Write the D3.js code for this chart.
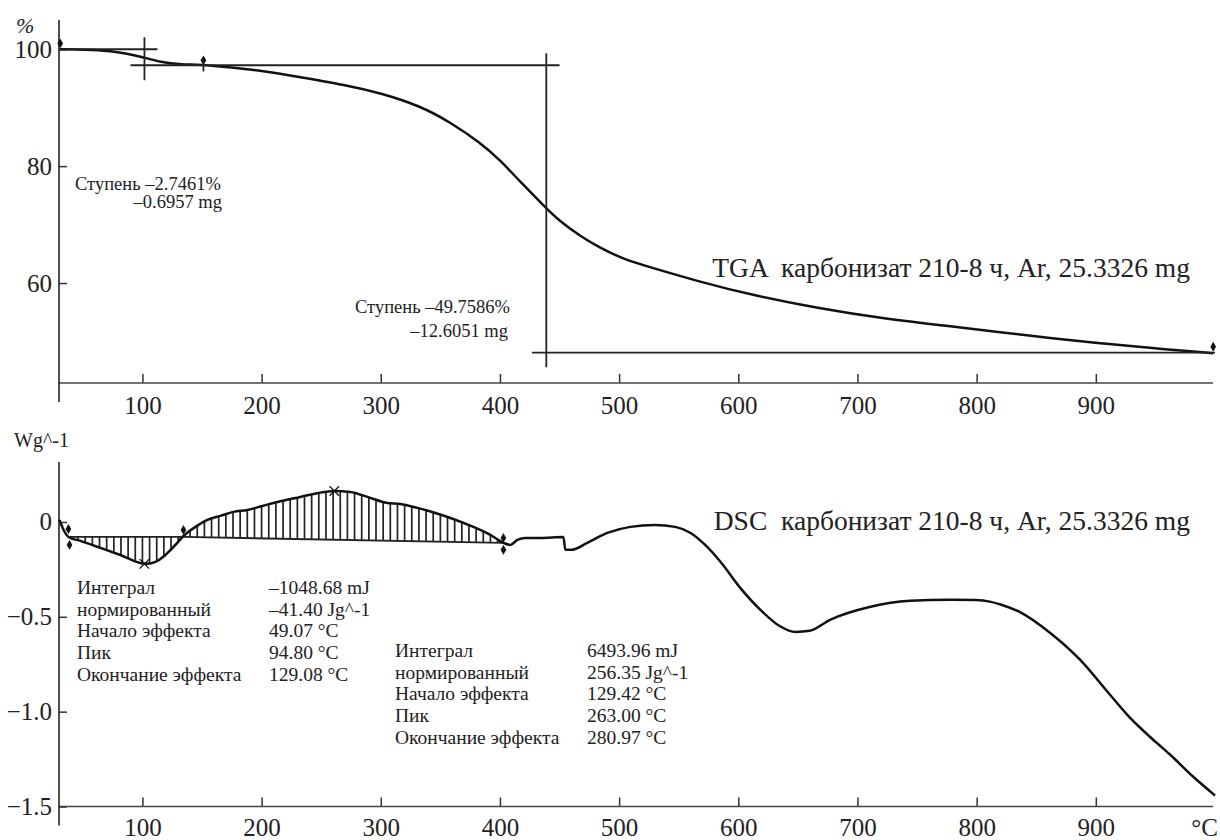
<!DOCTYPE html>
<meta charset="utf-8">
<title>TGA / DSC</title>
<style>
body {
  margin: 0;
  background: #fff;
}
text {
  font-family: "Liberation Serif", "Times New Roman", serif;
  fill: #222;
}
.curve {
  fill: none;
  stroke: #111;
  stroke-width: 2.5px;
}
.guide {
  stroke: #222;
  stroke-width: 1.8px;
}
.axis line, .axis path {
  stroke: #333;
}
</style>
<body>
<script src="https://cdnjs.cloudflare.com/ajax/libs/d3/7.8.5/d3.min.js"></script>
<script>
// temperature (°C) and mass (%) of the TGA curve
var tgaT = [30.4, 64.8, 87.4, 100.8, 115.1, 131.9, 154.5, 199, 232.6, 274.5, 299.7, 333.2, 358.4, 383.6, 400.3, 417.1,
            438.9, 449, 467.4, 484.2, 503.5, 526.2, 568.1, 610.1, 666.3, 725, 777.9, 819.8, 861.7, 903.7, 945.6, 998.5];
var tgaV = [100, 99.9, 99.3, 98.6, 97.8, 97.4, 97.3, 96.4, 95.2, 93.7, 92.5, 90.3, 87.5, 84.0, 81.0, 77.3,
            72.8, 70.8, 68.0, 66.0, 64.1, 62.7, 60.2, 58.0, 55.7, 53.8, 52.6, 51.6, 50.6, 49.7, 48.9, 48.0];

// temperature (°C) and heat flow (W/g) of the DSC curve
var dscT = [30.4, 33.7, 37.9, 48, 64.8, 81.5, 102.5, 110.9, 119.3, 127.7, 134.4, 144.5, 154.5, 165.4, 176.3, 188.1,
            200.7, 213.3, 232.6, 247.7, 261, 274.5, 288.8, 305.5, 316.4, 330.7, 345.8, 358.4, 377.7, 392, 402.9,
            408.7, 414.6, 421.3, 433.9, 453.2, 454.9, 459.9, 473.3, 490.1, 509.4, 530, 547, 560, 572, 585, 602,
            618, 635, 648, 660, 677, 711, 744, 778, 799, 811, 820, 836, 861.5, 886.7, 911.9, 928.6, 947.9, 962.2, 981.5, 1000];
var dscV = [0.01, -0.04, -0.079, -0.10, -0.137, -0.174, -0.221, -0.21, -0.174, -0.121, -0.074, -0.026, 0.011, 0.032, 0.053, 0.063,
            0.084, 0.105, 0.132, 0.153, 0.163, 0.158, 0.132, 0.10, 0.095, 0.074, 0.047, 0.021, -0.026, -0.068, -0.11,
            -0.121, -0.095, -0.084, -0.084, -0.079, -0.147, -0.147, -0.11, -0.058, -0.026, -0.016, -0.026, -0.058, -0.12, -0.21, -0.35,
            -0.46, -0.55, -0.58, -0.574, -0.516, -0.447, -0.416, -0.41, -0.412, -0.42, -0.435, -0.474, -0.584, -0.726, -0.911, -1.032, -1.147, -1.226, -1.342, -1.442];

var xTicks = [100, 200, 300, 400, 500, 600, 700, 800, 900];
var tgaTicks = [100, 80, 60];
var dscTicks = [0, -0.5, -1.0, -1.5];

// step construction lines of the TGA, [t1, v1, t2, v2]
var tgaGuides = [[30.4, 100, 112.6, 100], [101.7, 102.05, 101.7, 94.7], [90, 97.26, 450, 97.26],
                 [438.9, 99.3, 438.9, 45.6], [427, 48.1, 1000, 48.1]];
var tgaMarks = [[31, 101.0], [151.2, 98.1], [998.5, 49.1]];

// integration baselines of the DSC peaks
var base1 = [[37.9, -0.079], [134.4, -0.079]];
var base2 = [[134.4, -0.079], [402.9, -0.11]];
var dscMarks = [[37.9, -0.037], [38.8, -0.121], [134.4, -0.042], [402.9, -0.084], [402.9, -0.147]];
var dscPeaks = [[101.7, -0.221], [261, 0.163]];

var stepText = [["Ступень –2.7461%", "–0.6957 mg"], ["Ступень –49.7586%", "–12.6051 mg"]];
var peakNames = ["Интеграл", "нормированный", "Начало эффекта", "Пик", "Окончание эффекта"];
var peak1Vals = ["–1048.68 mJ", "–41.40 Jg^-1", "49.07 °C", "94.80 °C", "129.08 °C"];
var peak2Vals = ["6493.96 mJ", "256.35 Jg^-1", "129.42 °C", "263.00 °C", "280.97 °C"];

var w = 1220,
    h = 840;

var svg = d3.select("body").append("svg")
    .attr("width", w)
    .attr("height", h);

var x = d3.scaleLinear().domain([30, 1000]).range([59, 1215]);
var yT = d3.scaleLinear().domain([42.9, 105]).range([383, 20]);
var yD = d3.scaleLinear().domain([-1.5, 0.316]).range([806.5, 462]);

function axes(y, ticks, fmt, bottom, top, pad, showC) {
  var gx = svg.append("g")
      .attr("class", "axis")
      .attr("transform", "translate(0," + bottom + ")")
      .call(d3.axisBottom(x).tickValues(xTicks).tickSize(-9).tickSizeOuter(0).tickPadding(pad));
  gx.select(".domain").remove();
  gx.selectAll("text").style("font-size", "25px").style("font-family", "Liberation Serif").attr("fill", "#222");
  gx.selectAll("line").attr("stroke-width", 1.5);
  svg.append("line")
      .attr("x1", 59).attr("x2", 1213).attr("y1", bottom).attr("y2", bottom)
      .attr("stroke", "#444").attr("stroke-width", 1.5);

  var gy = svg.append("g")
      .attr("class", "axis")
      .attr("transform", "translate(59,0)")
      .call(d3.axisLeft(y).tickValues(ticks).tickFormat(fmt).tickSize(-8).tickPadding(7));
  gy.select(".domain").remove();
  gy.selectAll("text").style("font-size", "25px").style("font-family", "Liberation Serif").attr("fill", "#222");
  gy.selectAll("line").attr("stroke-width", 1.5);
  svg.append("line")
      .attr("x1", 59).attr("x2", 59).attr("y1", top).attr("y2", bottom + 19)
      .attr("stroke", "#222").attr("stroke-width", 1.6);

  if (showC) {
    svg.append("text").attr("x", 1218).attr("y", 836)
        .attr("text-anchor", "end").style("font-size", "25px").text("°C");
  }
}

axes(yT, tgaTicks, d3.format("d"), 383, 20, 13, false);
axes(yD, dscTicks, function(d) { return d === 0 ? "0" : d3.format(".1f")(d); }, 806.5, 462, 11.5, true);

svg.append("text").attr("x", 16).attr("y", 33).style("font-size", "22px").style("font-style", "italic").text("%");
svg.append("text").attr("x", 14).attr("y", 447).style("font-size", "20px").text("Wg^-1");

// ---- TGA ----
var tga = tgaT.map(function(t, i) { return [t, tgaV[i]]; });
svg.append("path")
    .datum(tga)
    .attr("class", "curve")
    .attr("d", d3.line().x(function(d) { return x(d[0]); }).y(function(d) { return yT(d[1]); }).curve(d3.curveBasis));

svg.selectAll(".tguide")
    .data(tgaGuides)
  .enter().append("line")
    .attr("class", "guide")
    .attr("x1", function(d) { return x(d[0]); })
    .attr("y1", function(d) { return yT(d[1]); })
    .attr("x2", function(d) { return x(d[2]); })
    .attr("y2", function(d) { return yT(d[3]); });

svg.selectAll(".tmark")
    .data(tgaMarks)
  .enter().append("path")
    .attr("d", d3.symbol(d3.symbolDiamond, 28))
    .attr("transform", function(d) { return "translate(" + x(d[0]) + "," + yT(d[1]) + ")"; })
    .attr("fill", "#111");
svg.append("line").attr("class", "guide")
    .attr("x1", x(151.2)).attr("x2", x(151.2)).attr("y1", yT(98.1)).attr("y2", yT(96.2));

var st = svg.append("g").style("font-size", "18.5px");
st.append("text").attr("x", 75).attr("y", 190).text(stepText[0][0]);
st.append("text").attr("x", 222).attr("y", 208).attr("text-anchor", "end").text(stepText[0][1]);
st.append("text").attr("x", 510).attr("y", 313).attr("text-anchor", "end").text(stepText[1][0]);
st.append("text").attr("x", 508).attr("y", 337).attr("text-anchor", "end").text(stepText[1][1]);

svg.append("text").attr("x", 1190).attr("y", 277).attr("text-anchor", "end")
    .style("font-size", "27.5px").style("white-space", "pre").text("TGA  карбонизат 210-8 ч, Ar, 25.3326 mg");

// ---- DSC ----
var dsc = dscT.map(function(t, i) { return [t, dscV[i]]; });
var bis = d3.bisector(function(d) { return d[0]; }).left;
function at(arr, t) {
  var i = Math.max(1, Math.min(arr.length - 1, bis(arr, t)));
  var a = arr[i - 1], b = arr[i];
  return a[1] + (b[1] - a[1]) * (t - a[0]) / (b[0] - a[0]);
}

var hatch = [];
d3.range(40, 134, 6).forEach(function(t) { hatch.push([t, at(dsc, t), at(base1, t)]); });
d3.range(140, 402, 6).forEach(function(t) { hatch.push([t, at(dsc, t), at(base2, t)]); });
svg.selectAll(".hatch")
    .data(hatch)
  .enter().append("line")
    .attr("x1", function(d) { return x(d[0]); })
    .attr("x2", function(d) { return x(d[0]); })
    .attr("y1", function(d) { return yD(d[1]); })
    .attr("y2", function(d) { return yD(d[2]); })
    .attr("stroke", "#222")
    .attr("stroke-width", 1.7);

[base1, base2].forEach(function(b) {
  svg.append("line").attr("class", "guide")
      .attr("x1", x(b[0][0])).attr("y1", yD(b[0][1]))
      .attr("x2", x(b[1][0])).attr("y2", yD(b[1][1]));
});

svg.append("path")
    .datum(dsc)
    .attr("class", "curve")
    .attr("d", d3.line().x(function(d) { return x(d[0]); }).y(function(d) { return yD(d[1]); }).curve(d3.curveMonotoneX));

svg.selectAll(".dmark")
    .data(dscMarks)
  .enter().append("path")
    .attr("d", d3.symbol(d3.symbolDiamond, 28))
    .attr("transform", function(d) { return "translate(" + x(d[0]) + "," + yD(d[1]) + ")"; })
    .attr("fill", "#111");

svg.selectAll(".dpeak")
    .data(dscPeaks)
  .enter().append("path")
    .attr("d", d3.symbol(d3.symbolX, 60))
    .attr("transform", function(d) { return "translate(" + x(d[0]) + "," + yD(d[1]) + ")"; })
    .attr("fill", "none")
    .attr("stroke", "#111")
    .attr("stroke-width", 1.3);

svg.append("text").attr("x", 1190).attr("y", 530).attr("text-anchor", "end")
    .style("font-size", "27.5px").style("white-space", "pre").text("DSC  карбонизат 210-8 ч, Ar, 25.3326 mg");

function table(x0, x1, y0, vals) {
  var g = svg.append("g").style("font-size", "19.5px");
  peakNames.forEach(function(n, i) {
    g.append("text").attr("x", x0).attr("y", y0 + i * 21.7).text(n);
    g.append("text").attr("x", x1).attr("y", y0 + i * 21.7).text(vals[i]);
  });
}
table(77, 269, 594, peak1Vals);
table(395, 587, 657, peak2Vals);
</script>
